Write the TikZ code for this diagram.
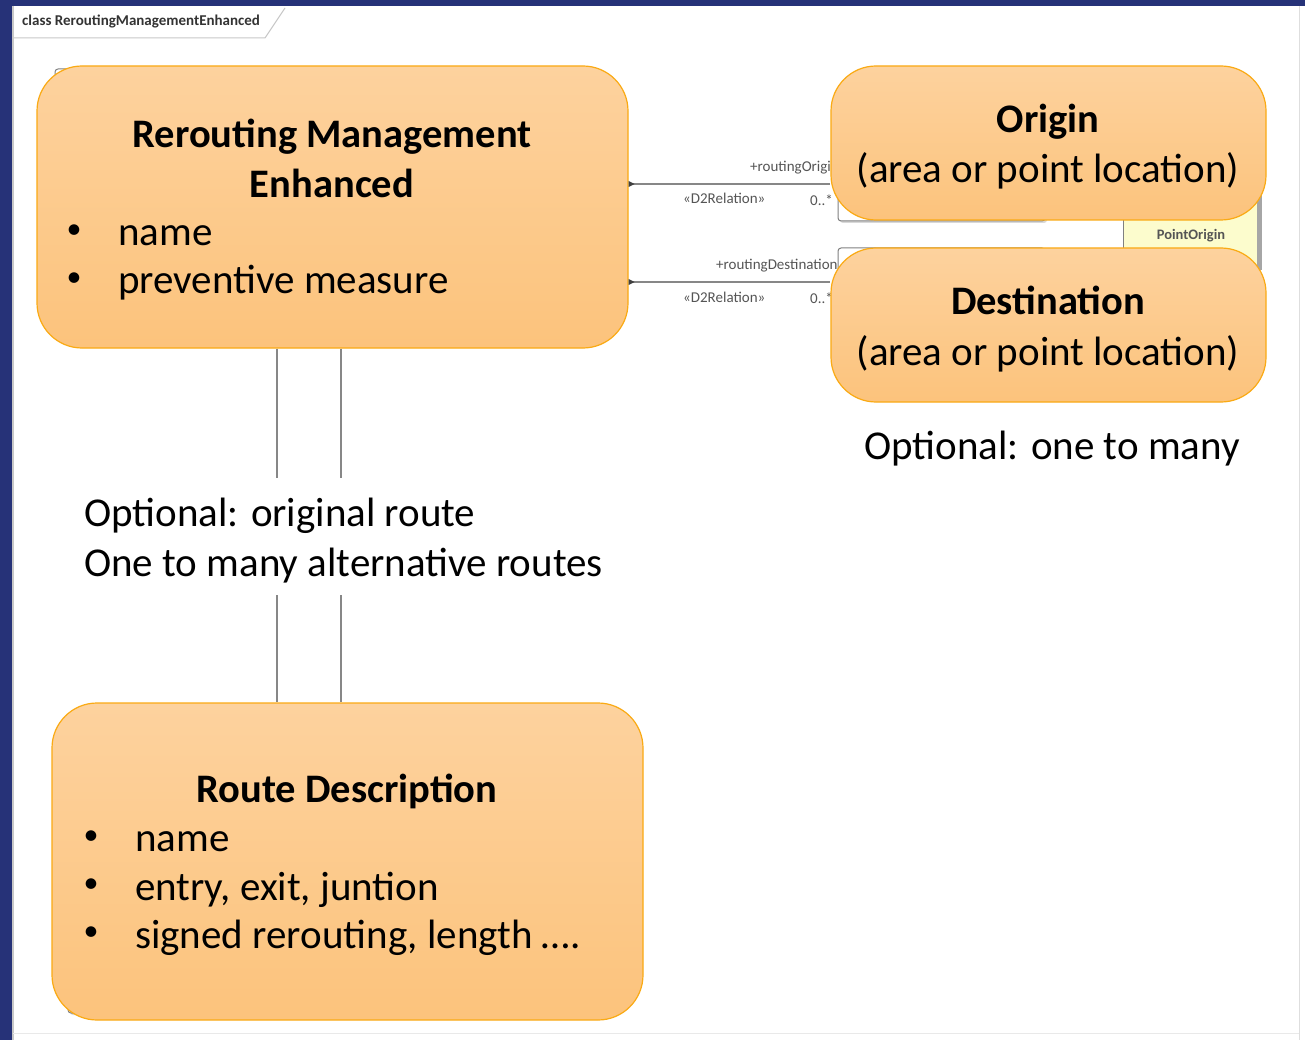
\documentclass[tikz,border=0pt]{standalone}
\usepackage{fontspec}
\setmainfont{Carlito}
\usetikzlibrary{shadows}
\definecolor{navy}{RGB}{38,50,120}
\definecolor{boxtop}{RGB}{253,210,158}
\definecolor{boxbot}{RGB}{252,195,124}
\definecolor{boxline}{RGB}{250,170,20}
\definecolor{connc}{RGB}{135,135,135}
\definecolor{lbl}{RGB}{85,85,85}
\definecolor{pale}{RGB}{252,252,205}
\definecolor{framegray}{RGB}{200,200,200}
\tikzset{
  box/.style={draw=boxline, line width=1.2pt, rounded corners=45pt, top color=boxtop, bottom color=boxbot, inner sep=0pt},
  big/.style={font=\fontsize{41}{48}\selectfont, inner sep=0pt, anchor=base, text=black},
  bigl/.style={big, anchor=base west},
  bullet/.style={font=\fontsize{30}{36}\selectfont, inner sep=0pt, anchor=center, text=black},
  bigb/.style={font=\fontsize{40.5}{48}\selectfont\bfseries, inner sep=0pt, anchor=base, text=black},
  small/.style={font=\fontsize{15}{17}\selectfont, inner sep=0pt, anchor=base west, text=lbl},
  smallb/.style={font=\fontsize{14.5}{17}\selectfont\bfseries, inner sep=0pt, anchor=base, text=lbl},
  connline/.style={draw=connc, line width=1.8pt},
  hidden/.style={draw=gray, fill=white, rounded corners=3pt, line width=1pt, drop shadow={shadow xshift=2pt, shadow yshift=-2pt, opacity=0.3}},
}
\begin{document}
\begin{tikzpicture}[x=1pt,y=-1pt]
\useasboundingbox (0,0) rectangle (1305,1040);
% frame
\fill[navy] (0,0) rectangle (1305,1040);
\fill[white] (12,6) rectangle (1305,1040);
\draw[framegray, line width=1.5pt] (13,6) -- (13,1040);
\draw[framegray!60, line width=1pt] (1299,6) -- (1299,1040);
\draw[framegray!40, line width=1pt] (13,1033) -- (1299,1033);
\draw[framegray, line width=1pt] (13,38) -- (265,38) -- (285,8);
\node[font=\fontsize{15}{17}\selectfont\bfseries, inner sep=0pt, anchor=base west, text=black!80] (tab) at (22,26) {class ReroutingManagementEnhanced};

% connector labels (partly hidden by the boxes drawn later)
\node[small] (l1) at (750,172) {+routingOrigin};
\node[small] (l2) at (683,204) {«D2Relation»};
\node[small] (l3) at (810,206) {0..*};
\node[small] (l4) at (716,270) {+routingDestination};
\node[small] (l5) at (683,302) {«D2Relation»};
\node[small] (l6) at (810,304) {0..*};

% hidden UML boxes behind
\draw[hidden] (55,69) rectangle (300,300);
\draw[hidden] (68,800) rectangle (300,1013);
\draw[hidden] (838,140) rectangle (1045,221);
\draw[hidden] (838,248) rectangle (1045,380);
\fill[pale] (1123,180) rectangle (1260,270);
\draw[gray, line width=1pt] (1123,180) -- (1123,270);
\fill[gray!70] (1257,180) rectangle (1262,270);
\node[smallb] (po) at (1191,240) {PointOrigin};

% boxes (shapes)
\node[box, minimum width=591pt, minimum height=282pt] (rme) at (332.5,207) {};
\node[box, minimum width=591pt, minimum height=317pt] (rd) at (347.5,861.5) {};
\node[box, minimum width=435pt, minimum height=154pt] (orig) at (1048.5,143) {};
\node[box, minimum width=435pt, minimum height=154pt] (dest) at (1048.5,325) {};

% connectors
\coordinate (c1) at (0,184);
\coordinate (c2) at (0,282);
\draw[connline] (rme.east |- c1) -- (orig.west |- c1);
\draw[connline] (rme.east |- c2) -- (dest.west |- c2);
\fill[black!75] (rme.east |- c1) ++(0,-3) -- ++(6,3) -- ++(-6,3) -- cycle;
\fill[black!75] (rme.east |- c2) ++(0,-3) -- ++(6,3) -- ++(-6,3) -- cycle;

\coordinate (v1a) at (277,478);
\coordinate (v2a) at (341,478);
\coordinate (v1b) at (277,595);
\coordinate (v2b) at (341,595);
\draw[connline] (rme.south -| v1a) -- (v1a);
\draw[connline] (rme.south -| v2a) -- (v2a);
\draw[connline] (v1b) -- (rd.north -| v1b);
\draw[connline] (v2b) -- (rd.north -| v2b);

% texts
\node[bigb] (t1) at (332,148) {Rerouting Management};
\node[bigb] (t2) at (332,198) {Enhanced};
\node[bullet] (b1) at (74,232) {•};
\node[bigl] (n1) at (118,246) {name};
\node[bullet] (b2) at (74,280) {•};
\node[bigl] (n2) at (118,294) {preventive measure};

\node[bigb] (o1) at (1048,133) {Origin};
\node[big] (o2) at (1048,183) {(area or point location)};
\node[bigb] (d1) at (1048,314) {Destination};
\node[big] (d2) at (1048,365) {(area or point location)};
\node[bigl] (opt1) at (864,459) {Optional: one to many};

\node[bigl] (opt2) at (84,526) {Optional: original route};
\node[bigl] (opt3) at (84,576) {One to many alternative routes};

\node[bigb] (r1) at (347,802) {Route Description};
\node[bullet] (rb1) at (91,838) {•};
\node[bigl] (rn1) at (135,851) {name};
\node[bullet] (rb2) at (91,886) {•};
\node[bigl] (rn2) at (135,900) {entry, exit, juntion};
\node[bullet] (rb3) at (91,934) {•};
\node[bigl] (rn3) at (135,948) {signed rerouting, length ….};
\end{tikzpicture}
\end{document}
